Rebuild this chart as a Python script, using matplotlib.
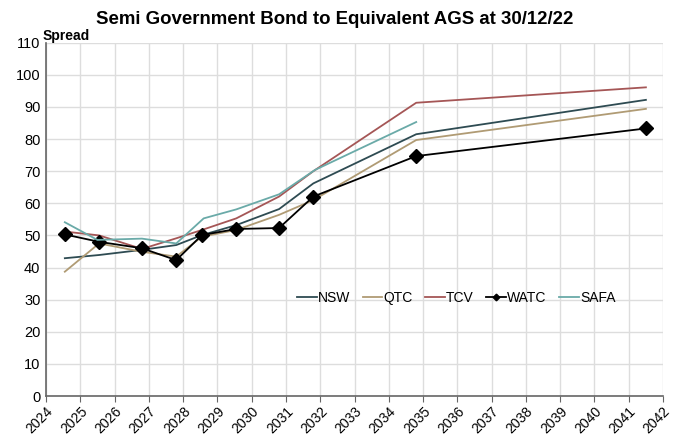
import matplotlib
matplotlib.use("Agg")
import matplotlib.pyplot as plt

plt.rcParams['font.family'] = ['Liberation Sans', 'DejaVu Sans']

# maturity (fractional year) of each bond line
years = [2024.55, 2025.55, 2026.8, 2027.8, 2028.55, 2029.55, 2030.8, 2031.8, 2034.8, 2041.5]
years_safa = [2024.55, 2025.5, 2026.8, 2027.8, 2028.6, 2029.55, 2030.8, 2031.85, 2034.8]

nsw = [42.9, 43.9, 45.5, 47.0, 50.1, 53.2, 58.2, 66.2, 81.5, 92.2]
qtc = [38.7, 47.5, 44.9, 43.4, 49.6, 51.7, 56.4, 61.0, 79.7, 89.4]
tcv = [51.2, 50.0, 45.8, 49.1, 51.7, 55.3, 62.1, 70.0, 91.3, 96.1]
watc = [50.3, 48.0, 46.0, 42.3, 50.1, 52.0, 52.3, 62.1, 74.7, 83.3]
safa = [54.1, 48.6, 49.0, 47.5, 55.3, 58.1, 62.8, 70.4, 85.3]

fig = plt.figure(figsize=(6.79, 4.37), dpi=100)
ax = fig.add_axes([0.0677, 0.0938, 0.9088, 0.8085])

ax.plot(years, nsw, color='#2e4b52', lw=1.3, label='NSW')
ax.plot(years, qtc, color='#b09b74', lw=1.3, label='QTC')
ax.plot(years, tcv, color='#a55656', lw=1.3, label='TCV')
ax.plot(years, watc, color='black', lw=1.3, marker='D', markersize=7.5, label='WATC')
ax.plot(years_safa, safa, color='#6aaaa8', lw=1.3, label='SAFA')

ax.set_xlim(2024, 2042)
ax.set_ylim(0, 110)
ax.set_xticks(range(2024, 2043))
ax.set_yticks(range(0, 111, 10))
ax.set_xticklabels([str(y) for y in range(2024, 2043)], rotation=45,
                   ha='right', rotation_mode='anchor', fontsize=10)
ax.tick_params(axis='y', labelsize=10.5, length=0, pad=4)
ax.tick_params(axis='x', length=4, color='#666666', pad=2)
ax.grid(True, color='#dddddd', lw=1)
ax.set_axisbelow(True)
for s in ['top', 'right']:
    ax.spines[s].set_visible(False)
for s in ['left', 'bottom']:
    ax.spines[s].set_color('#666666')
    ax.spines[s].set_linewidth(1.2)

leg = ax.legend(loc='center', bbox_to_anchor=(0.665, 0.277), ncol=5, frameon=False,
                fontsize=10, handlelength=1.4, handletextpad=0.1,
                columnspacing=0.9, markerscale=0.45)

fig.text(0.493, 0.955, 'Semi Government Bond to Equivalent AGS at 30/12/22',
         ha='center', va='center', fontsize=13.4, fontweight='bold')
fig.text(0.062, 0.918, 'Spread', ha='left', va='center', fontsize=10, fontweight='bold')

fig.savefig('out.png', dpi=100)
